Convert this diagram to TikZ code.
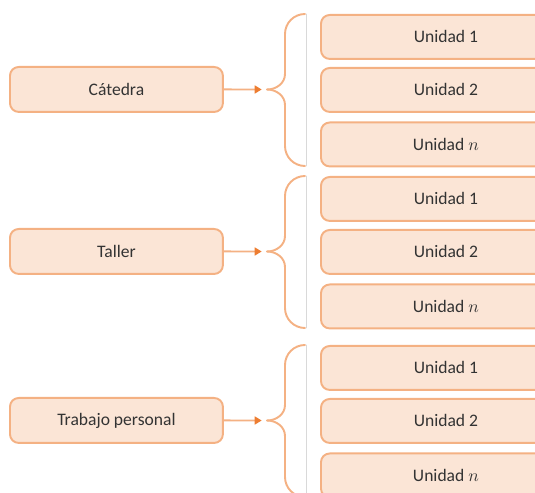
\documentclass[tikz,border=0pt]{standalone}
\usepackage{fontspec}
\setmainfont{Carlito}
\usetikzlibrary{arrows.meta}
\definecolor{durazno}{HTML}{FBE5D6}
\definecolor{naranja}{HTML}{F4B183}
\definecolor{naranjaosc}{HTML}{ED7D31}
\definecolor{texto}{HTML}{333333}
\tikzset{
  caja/.style={draw=naranja,fill=durazno,line width=1.1pt,rounded corners=5pt,
    text=texto,anchor=north west,inner sep=0pt,font=\normalsize},
  tema/.style={caja,minimum width=4.26cm,minimum height=0.9cm},
  unidad/.style={caja,minimum width=5cm,minimum height=0.88cm},
  llave/.style={draw=naranja,line width=1.1pt},
  flecha/.style={draw=naranja,line width=1.1pt,
    -{Triangle[length=4pt,width=4.5pt,color=naranjaosc]}}
}

\begin{document}
\begin{tikzpicture}[line cap=round,line join=round,x=0.02cm,y=-0.02cm]
\useasboundingbox (0,0) rectangle (535,493);
\clip (0,0) rectangle (535,493);

\foreach \y/\nombre/\i in {14/Cátedra/a, 176/Taller/b, 345/Trabajo personal/c}{
  % columna de la izquierda
  \node[tema] (tema\i) at (9,{\y+52}) {\nombre};
  % unidades
  \node[unidad] (u\i1) at (320,\y) {Unidad 1};
  \node[unidad] (u\i2) at (320,{\y+53}) {Unidad 2};
  \node[unidad] (u\i3) at (320,{\y+107.5}) {Unidad $n$};
  % llave
  \coordinate (punta\i) at (267,{\y+75.5});
  \draw[gray!30,line width=0.5pt] (306,\y) -- (306,{\y+152});
  \draw[llave] (305,\y) to[out=180,in=90] (285,{\y+20}) -- (285,{\y+60})
     to[out=-90,in=0] (punta\i);
  \draw[llave] (305,{\y+152}) to[out=180,in=-90] (285,{\y+132}) -- (285,{\y+91})
     to[out=90,in=0] (punta\i);
  \draw[flecha] (tema\i.east) -- ([xshift=-3pt]punta\i);
}
\end{tikzpicture}
\end{document}
